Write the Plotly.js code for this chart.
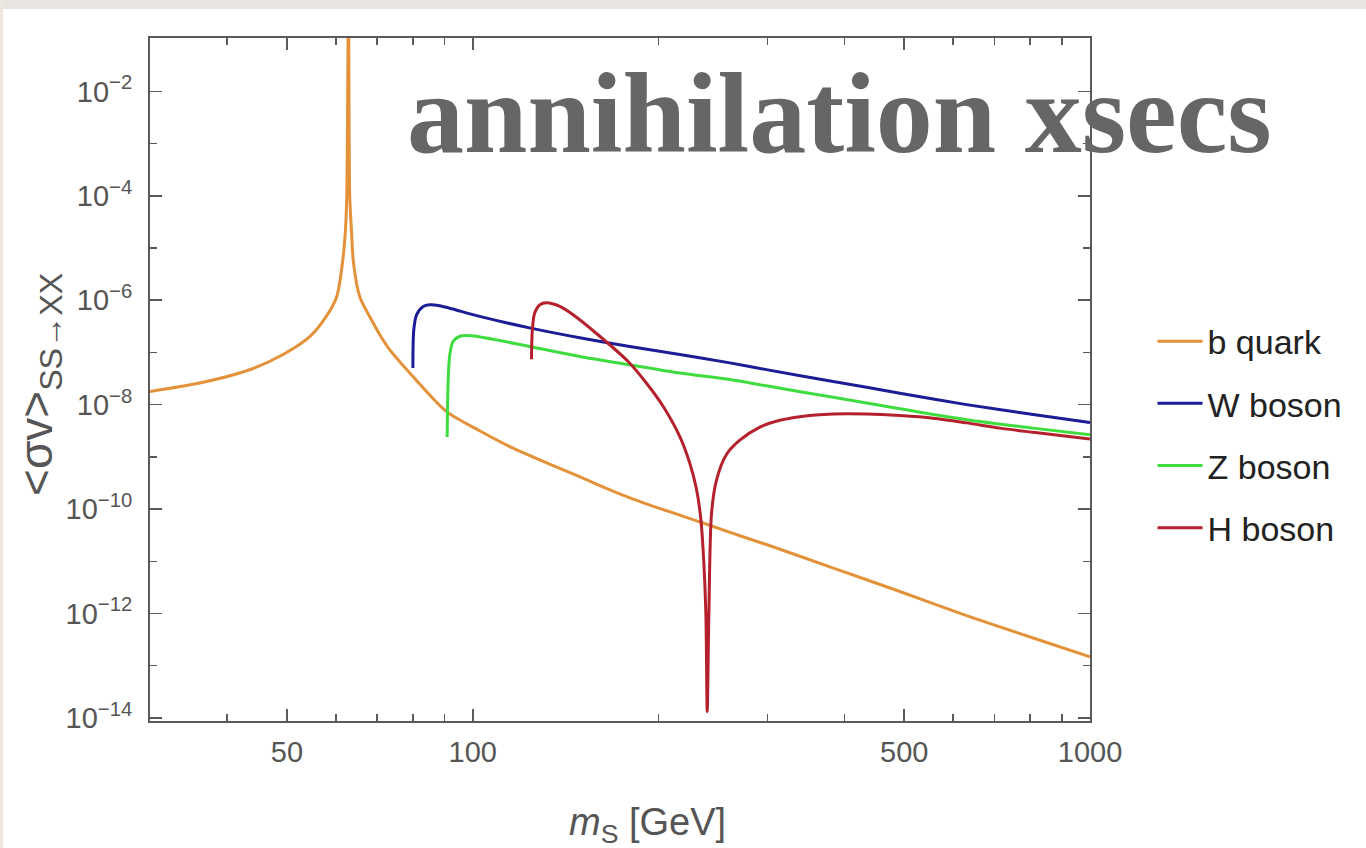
<!DOCTYPE html>
<html>
<head>
<meta charset="utf-8">
<script src="https://cdn.plot.ly/plotly-3.0.1.min.js"></script>
<style>
  html, body { margin: 0; padding: 0; background: #ffffff; }
  #chart { width: 1366px; height: 848px; }
</style>
</head>
<body>
<div id="chart"></div>
<script>
// ---- data (m_S in GeV, <sigma v> as plotted) ----
const bQuarkX = [30, 36.1, 43.5, 49.2, 54.5, 57.9, 60.2, 61.5, 62.2, 62.5, 62.9, 63.2, 63.6, 64.1, 65.6, 68.5, 70.7, 73.4, 80.0, 90.6, 102.6, 116, 132, 149, 169, 191, 217, 242, 277, 299, 384, 492, 631, 809, 1000];
const bQuarkY = [1.79e-8, 2.59e-8, 4.66e-8, 9.04e-8, 2.03e-7, 4.90e-7, 1.17e-6, 5.13e-6, 2.24e-5, 9.8e-5, 0.5, 9.8e-5, 2.24e-5, 5.13e-6, 1.17e-6, 4.27e-7, 2.19e-7, 1.12e-7, 3.47e-8, 7.41e-9, 3.16e-9, 1.48e-9, 7.59e-10, 4.17e-10, 2.19e-10, 1.26e-10, 7.59e-11, 4.90e-11, 2.82e-11, 2.09e-11, 7.41e-12, 2.63e-12, 9.12e-13, 3.39e-13, 1.48e-13];

const wBosonX = [80.0, 80.25, 81.1, 83.1, 85.1, 88.4, 102.6, 123.6, 149, 179.6, 216.5, 261, 299, 383.7, 492, 631, 809, 1000];
const wBosonY = [5.01e-8, 2.72e-7, 5.25e-7, 7.59e-7, 8.20e-7, 7.85e-7, 4.90e-7, 2.95e-7, 1.91e-7, 1.30e-7, 9.12e-8, 6.31e-8, 4.68e-8, 2.78e-8, 1.66e-8, 1.00e-8, 6.46e-9, 4.57e-9];

const zBosonX = [90.9, 91.25, 91.8, 92.9, 95.3, 99.6, 123.6, 149, 179.6, 216.5, 261, 299, 383.7, 492, 631, 809, 1000];
const zBosonY = [2.40e-9, 3.02e-8, 9.12e-8, 1.62e-7, 2.04e-7, 2.09e-7, 1.30e-7, 8.38e-8, 5.81e-8, 4.03e-8, 3.02e-8, 2.29e-8, 1.38e-8, 8.32e-9, 5.13e-9, 3.55e-9, 2.65e-9];

const hBosonX = [124.5, 124.9, 126.0, 128.5, 131.6, 138.4, 145.4, 160.6, 178.4, 191.2, 203.4, 216.5, 224.7, 230.5, 234.2, 236.8, 238.6, 239.8, 241.3, 243.7, 248.3, 257.8, 270.8, 291.9, 314.5, 338.8, 383.7, 434.5, 492, 557, 631, 714.5, 809, 1000];
const hBosonY = [7.41e-8, 2.72e-7, 5.69e-7, 8.20e-7, 8.91e-7, 7.59e-7, 5.25e-7, 2.04e-7, 6.76e-8, 2.57e-8, 9.33e-9, 2.45e-9, 7.59e-10, 2.34e-10, 6.31e-11, 9.33e-12, 1.0e-12, 1.32e-14, 1.0e-12, 8.32e-11, 3.63e-10, 1.12e-9, 2.09e-9, 3.72e-9, 5.01e-9, 5.89e-9, 6.61e-9, 6.61e-9, 6.17e-9, 5.50e-9, 4.47e-9, 3.55e-9, 2.95e-9, 2.19e-9];

const seriesNames = ['b quark', 'W boson', 'Z boson', 'H boson'];
const seriesColors = ['#e3923a', '#1c1c96', '#3fdc3f', '#b4202b'];

const xMajorTicks = [50, 100, 500, 1000];
const xMajorLabels = ['50', '100', '500', '1000'];
const xMinorTicks = [40, 60, 70, 80, 90, 200, 300, 400, 600, 700, 800, 900];
const yMajorTicks = [1e-2, 1e-4, 1e-6, 1e-8, 1e-10, 1e-12, 1e-14];
const yMajorLabels = ['10<sup>\u22122</sup>', '10<sup>\u22124</sup>', '10<sup>\u22126</sup>', '10<sup>\u22128</sup>', '10<sup>\u221210</sup>', '10<sup>\u221212</sup>', '10<sup>\u221214</sup>'];
const yMinorTicks = [1e-3, 1e-5, 1e-7, 1e-9, 1e-11, 1e-13];

const chartTitle = 'annihilation xsecs';
const xTitle = '<i>m</i><sub>S</sub> [GeV]';
const yTitle = '&lt;\u03c3v&gt;<sub>SS\u2192XX</sub>';

// ---- traces ----
const xs = [bQuarkX, wBosonX, zBosonX, hBosonX];
const ys = [bQuarkY, wBosonY, zBosonY, hBosonY];
const traces = xs.map((x, i) => ({
  type: 'scatter', mode: 'lines',
  x: x, y: ys[i],
  name: seriesNames[i],
  legendgroup: 'g' + i,
  line: { color: seriesColors[i], width: 3, shape: 'spline', smoothing: 0.8 },
  cliponaxis: true
}));

const sansFamily = 'Liberation Sans, Arial, sans-serif';
const axisFont = { family: sansFamily, size: 29, color: '#555555' };

const layout = {
  width: 1366, height: 848,
  margin: { l: 150, r: 276, t: 38, b: 127 },
  paper_bgcolor: '#ffffff',
  plot_bgcolor: '#ffffff',
  showlegend: true,
  xaxis: {
    type: 'log',
    range: [Math.log10(30), 3],
    showgrid: false, zeroline: false,
    showline: true, linecolor: '#5a5a5a', linewidth: 2, mirror: 'ticks',
    ticks: 'inside', ticklen: 12, tickwidth: 1.5, tickcolor: '#5a5a5a',
    tickmode: 'array', tickvals: xMajorTicks, ticktext: xMajorLabels,
    minor: { tickvals: xMinorTicks, ticks: 'inside', ticklen: 7, tickwidth: 1.5, tickcolor: '#5a5a5a', showgrid: false },
    tickfont: axisFont,
    ticklabelstandoff: 4
  },
  yaxis: {
    type: 'log',
    range: [-14.06, -0.977],
    showgrid: false, zeroline: false,
    showline: true, linecolor: '#5a5a5a', linewidth: 2, mirror: 'ticks',
    ticks: 'inside', ticklen: 12, tickwidth: 1.5, tickcolor: '#5a5a5a',
    tickmode: 'array', tickvals: yMajorTicks, ticktext: yMajorLabels,
    minor: { tickvals: yMinorTicks, ticks: 'inside', ticklen: 7, tickwidth: 1.5, tickcolor: '#5a5a5a', showgrid: false },
    tickfont: axisFont,
    ticklabelstandoff: 10
  },
  legend: {
    x: 1.0665, xanchor: 'left',
    y: 0.598, yanchor: 'top',
    bgcolor: 'rgba(0,0,0,0)',
    font: { family: sansFamily, size: 34, color: '#222222' },
    itemwidth: 45,
    tracegroupgap: 15
  },
  annotations: [
    {
      xref: 'paper', yref: 'paper',
      x: 0.734, y: 0.889, xanchor: 'center', yanchor: 'middle',
      text: '<b>' + chartTitle + '</b>',
      showarrow: false,
      font: { family: 'Liberation Serif, Times New Roman, serif', size: 114, color: '#666666' }
    },
    {
      xref: 'paper', yref: 'paper',
      x: 0.529, y: -0.153, xanchor: 'center', yanchor: 'middle',
      text: xTitle, showarrow: false,
      font: { family: sansFamily, size: 38, color: '#555555' }
    },
    {
      xref: 'paper', yref: 'paper',
      x: -0.117, y: 0.492, xanchor: 'center', yanchor: 'middle',
      text: yTitle, showarrow: false, textangle: -90,
      font: { family: sansFamily, size: 46, color: '#555555' }
    }
  ],
  shapes: [
    { type: 'rect', xref: 'paper', yref: 'paper', x0: -0.17, x1: 1.31, y0: 1.0425, y1: 1.07, fillcolor: '#e8e5e1', line: { width: 0 }, layer: 'above' },
    { type: 'rect', xref: 'paper', yref: 'paper', x0: -0.17, x1: -0.1564, y0: -0.2, y1: 1.07, fillcolor: '#ebe6e0', line: { width: 0 }, layer: 'above' }
  ]
};

Plotly.newPlot('chart', traces, layout, { displayModeBar: false, staticPlot: true });
</script>
</body>
</html>
